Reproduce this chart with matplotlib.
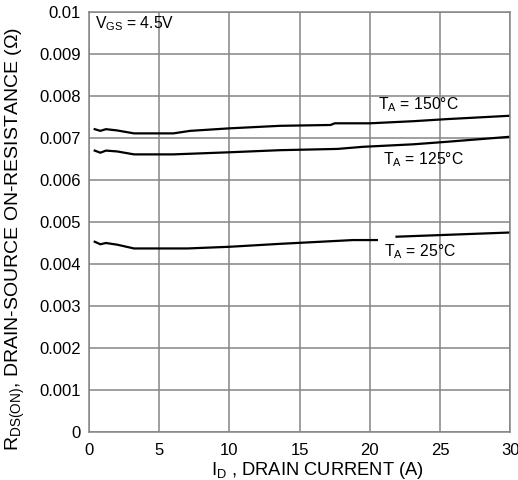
import numpy as np
import matplotlib
matplotlib.use("Agg")
import matplotlib.pyplot as plt

plt.rcParams['font.family'] = ['Liberation Sans', 'DejaVu Sans']
plt.rcParams['mathtext.fontset'] = 'custom'
plt.rcParams['mathtext.rm'] = 'Liberation Sans'
plt.rcParams['mathtext.it'] = 'Liberation Sans'

# Data
x150 = [0.4, 0.8, 1.2, 2.0, 3.2, 6.0, 7.2, 10.0, 13.6, 17.2, 17.5, 20.0, 23.1, 25.5, 30.0]
y150 = [0.00721, 0.00717, 0.00721, 0.00718, 0.00711, 0.00711, 0.00717, 0.00723, 0.00729,
        0.00731, 0.00735, 0.00735, 0.00740, 0.00745, 0.00753]

x125 = [0.4, 0.8, 1.2, 2.0, 3.2, 6.0, 10.0, 13.6, 17.7, 19.5, 23.1, 25.5, 30.0]
y125 = [0.00670, 0.00665, 0.00670, 0.00668, 0.00661, 0.00661, 0.00666, 0.00671, 0.00674,
        0.00679, 0.00685, 0.00691, 0.00703]

x25 = [0.4, 0.8, 1.2, 2.0, 3.2, 7.0, 10.0, 13.6, 16.5, 18.8, 20.5, 21.0, 21.9, 30.0]
y25 = [0.00453, 0.00447, 0.00450, 0.00446, 0.00437, 0.00437, 0.00441, 0.00448, 0.00453,
       0.00457, 0.00457, np.nan, 0.00465, 0.00475]

xticks = [0, 5, 10, 15, 20, 25, 30]
yticks = [0, 0.001, 0.002, 0.003, 0.004, 0.005, 0.006, 0.007, 0.008, 0.009, 0.01]
ytick_labels = ['0', '0.001', '0.002', '0.003', '0.004', '0.005', '0.006', '0.007',
                '0.008', '0.009', '0.01']

fig = plt.figure(figsize=(5.18, 4.8), dpi=100)
ax = fig.add_axes([0.172, 0.1, 0.813, 0.875])

ax.set_xlim(0, 30)
ax.set_ylim(0, 0.01)
ax.set_xticks(xticks)
ax.set_xticklabels([str(t) for t in xticks])
ax.set_yticks(yticks)
ax.set_yticklabels(ytick_labels)
ax.tick_params(length=0, labelsize=12, colors='black')
ax.tick_params(axis='y', pad=6)
ax.tick_params(axis='x', pad=8)
ax.grid(True, color='#858585', linewidth=1.1)
ax.set_axisbelow(True)
for s in ax.spines.values():
    s.set_color('#858585')
    s.set_linewidth(1.1)

for xs, ys in [(x150, y150), (x125, y125), (x25, y25)]:
    ax.plot(xs, ys, color='black', linewidth=1.6)

ax.text(0.45, 0.00995, r'V$_{\rm GS}$ = 4.5V', fontsize=11.3, va='top', ha='left')
ax.text(20.6, 0.00779, r'T$_{\rm A}$ = 150°C', fontsize=11.3, va='center', ha='left')
ax.text(20.95, 0.00648, r'T$_{\rm A}$ = 125°C', fontsize=11.3, va='center', ha='left')
ax.text(21.0, 0.00429, r'T$_{\rm A}$ = 25°C', fontsize=11.3, va='center', ha='left')

ax.set_xlabel(r'I$_{\rm D}$ , DRAIN CURRENT (A)', fontsize=13.2)
ax.xaxis.set_label_coords(0.543, -0.066)
ax.set_ylabel(r'R$_{\rm DS(ON)}$, DRAIN-SOURCE ON-RESISTANCE (Ω)', fontsize=14)
ax.yaxis.set_label_coords(-0.148, 0.46)

fig.savefig('out.png', dpi=100)
